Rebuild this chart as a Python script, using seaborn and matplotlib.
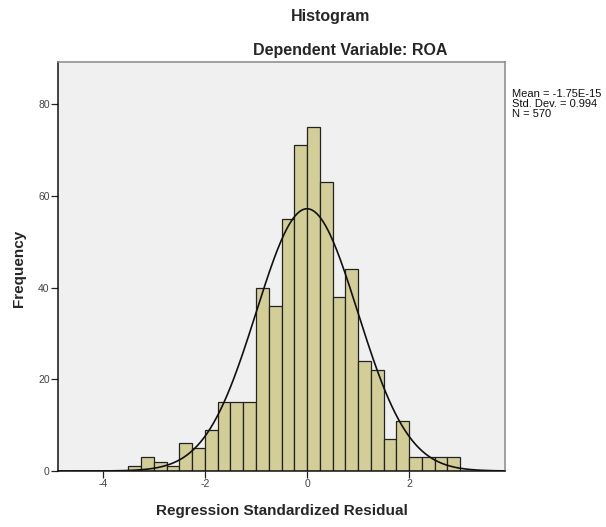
import numpy as np
import pandas as pd
import matplotlib
matplotlib.use("Agg")
import matplotlib.pyplot as plt
import seaborn as sns

# Data
bin_edges = [-3.5 + 0.25 * i for i in range(27)]
counts = [1, 3, 2, 1, 6, 5, 9, 15, 15, 15,
          40, 36, 55, 71, 75, 63, 38, 44,
          24, 22, 7, 11, 3, 3, 3, 3]
mean_val = -1.75e-15
std_val = 0.994
n_val = 570
x_ticks = [-4, -2, 0, 2]
y_ticks = [0, 20, 40, 60, 80]

centers = [(bin_edges[i] + bin_edges[i + 1]) / 2 for i in range(len(counts))]
df = pd.DataFrame({"resid": centers, "count": counts})

sns.set_style("white")
plt.rcParams["font.family"] = ["Liberation Sans", "DejaVu Sans"]

fig = plt.figure(figsize=(6.06, 5.27), dpi=100)
ax = fig.add_axes([58 / 606, 1 - 471 / 527, (505 - 58) / 606, (471 - 62) / 527])
ax.set_facecolor("#f0f0f0")

sns.histplot(data=df, x="resid", weights="count", bins=bin_edges, ax=ax,
             color="#d3ce98", alpha=1.0, edgecolor="#222222", linewidth=0.9)

xs = np.linspace(-4.88, 3.88, 400)
bw = bin_edges[1] - bin_edges[0]
ys = n_val * bw / (std_val * np.sqrt(2 * np.pi)) * np.exp(-0.5 * ((xs - mean_val) / std_val) ** 2)
sns.lineplot(x=xs, y=ys, ax=ax, color="#111111", linewidth=1.2)

ax.set_xlim(-4.88, 3.88)
ax.set_ylim(0, 89.2)
ax.set_xticks(x_ticks)
ax.set_yticks(y_ticks)
ax.set_xticklabels([str(t) for t in x_ticks], color="#444444", fontsize=7.5)
ax.set_yticklabels([str(t) for t in y_ticks], color="#444444", fontsize=7.5)
ax.tick_params(axis="both", direction="out", length=5, width=0.9, color="#222222",
               bottom=True, left=True, pad=1)

for side in ["left", "bottom"]:
    ax.spines[side].set_color("#111111")
    ax.spines[side].set_linewidth(1.1)
for side in ["top", "right"]:
    ax.spines[side].set_color("#888888")
    ax.spines[side].set_linewidth(1.1)

ax.set_xlabel("")
ax.set_ylabel("")
fig.text(281.5 / 606, 1 - 511 / 527, "Regression Standardized Residual",
         ha="center", va="center", fontsize=11, fontweight="bold")
fig.text(19 / 606, 1 - 268 / 527, "Frequency", rotation=90,
         ha="center", va="center", fontsize=11, fontweight="bold")
fig.text(331 / 606, 1 - 17 / 527, "Histogram",
         ha="center", va="center", fontsize=11.5, fontweight="bold")
fig.text(350.5 / 606, 1 - 50 / 527, "Dependent Variable: ROA",
         ha="center", va="center", fontsize=11.5, fontweight="bold")

stats_lines = ["Mean = -1.75E-15", f"Std. Dev. = {std_val}", f"N = {n_val}"]
for i, line in enumerate(stats_lines):
    fig.text(512 / 606, 1 - (94 + 10.2 * i) / 527, line,
             ha="left", va="center", fontsize=8, color="#111111")

fig.savefig("out.png", dpi=100)
